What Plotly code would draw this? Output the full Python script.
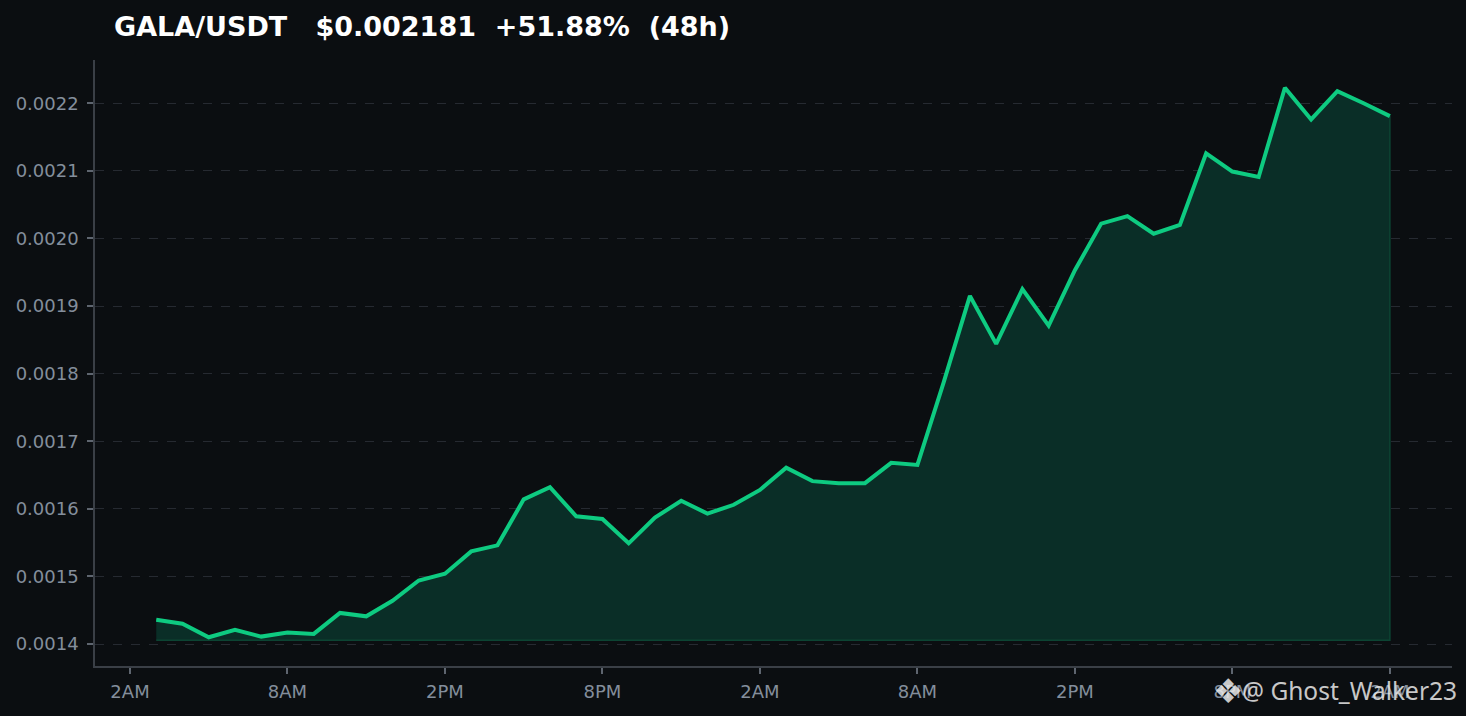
import pandas as pd
import plotly.graph_objects as go

# hourly closes, 48 points
prices = [
    0.001436, 0.001430, 0.001410, 0.001421, 0.001411, 0.001417, 0.001415, 0.001446,
    0.001441, 0.001464, 0.001494, 0.001504, 0.001537, 0.001546, 0.001614, 0.001632,
    0.001589, 0.001585, 0.001549, 0.001587, 0.001612, 0.001593, 0.001606, 0.001628,
    0.001661, 0.001641, 0.001638, 0.001638, 0.001668, 0.001665, 0.001787, 0.001915,
    0.001844, 0.001925, 0.001871, 0.001953, 0.002022, 0.002033, 0.002007, 0.002020,
    0.002126, 0.002099, 0.002091, 0.002223, 0.002176, 0.002218, 0.002200, 0.002181,
]
times = pd.date_range("2025-03-01 03:00", periods=len(prices), freq="h")

title_text = "GALA/USDT   $0.002181  +51.88%  (48h)"
logo = "❖"
watermark = "@ Ghost_Walker23"

BG = "#0b0e11"
GREEN = "#0ecb81"
GRAY = "#848e9c"
GRID = "#262a31"

base = min(prices) * 0.997  # bottom of the shaded area

fig = go.Figure()

# shaded area as a closed polygon
fig.add_trace(go.Scatter(
    x=list(times) + list(times[::-1]),
    y=prices + [base] * len(prices),
    fill="toself",
    fillcolor="#0a2e27",
    line=dict(color="#0c4433", width=1.5),
    mode="lines",
    hoverinfo="skip",
    showlegend=False,
))

# price line
fig.add_trace(go.Scatter(
    x=times, y=prices,
    mode="lines",
    line=dict(color=GREEN, width=4),
    showlegend=False,
))

fig.update_layout(
    width=1466, height=716,
    paper_bgcolor=BG, plot_bgcolor=BG,
    margin=dict(l=95, r=14, t=60, b=50),
    font=dict(family="DejaVu Sans", color=GRAY, size=18),
    title=dict(
        text=title_text.replace(" ", "\u00a0"),
        font=dict(family="DejaVu Sans", size=27, color="white", weight="bold"),
        xref="container", x=114 / 1466, xanchor="left",
        yref="container", y=1 - 27 / 716, yanchor="middle",
    ),
)

fig.update_xaxes(
    range=[pd.Timestamp("2025-03-01 00:40"), pd.Timestamp("2025-03-03 04:22")],
    tick0=pd.Timestamp("2025-03-01 02:00"), dtick=6 * 3600 * 1000,
    tickformat="%-I%p",
    showgrid=False, zeroline=False,
    showline=True, linecolor="#3a3f46", linewidth=1.5,
    ticks="outside", ticklen=6, tickcolor="#5e656f", tickwidth=1.5,
    ticklabelstandoff=3,
    tickfont=dict(color=GRAY, size=18),
)

fig.update_yaxes(
    range=[0.0013675, 0.002264],
    dtick=0.0001, tick0=0.0014, tickformat=".4f",
    showgrid=True, gridcolor=GRID, griddash="dash", gridwidth=1,
    zeroline=False,
    showline=True, linecolor="#3a3f46", linewidth=1.5,
    ticks="outside", ticklen=6, tickcolor="#5e656f", tickwidth=1.5,
    ticklabelstandoff=5,
    tickfont=dict(color=GRAY, size=18),
)

# watermark: logo + handle
fig.add_annotation(
    text=logo,
    xref="paper", yref="paper",
    x=(1228 - 95) / (1452 - 95), y=(666 - 691) / 606,
    xanchor="center", yanchor="middle",
    showarrow=False,
    font=dict(family="DejaVu Sans", size=34, color="rgba(235,235,235,0.85)"),
)
fig.add_annotation(
    text=watermark,
    xref="paper", yref="paper",
    x=(1459 - 95) / (1452 - 95), y=(666 - 691) / 606,
    xanchor="right", yanchor="middle",
    showarrow=False,
    font=dict(family="Noto Sans", size=24.5, color="rgba(235,235,235,0.85)"),
)

fig.write_html(
    "out.html",
    config={"displayModeBar": False},
    post_script="document.body.style.margin='0';document.body.style.overflow='hidden';",
)
